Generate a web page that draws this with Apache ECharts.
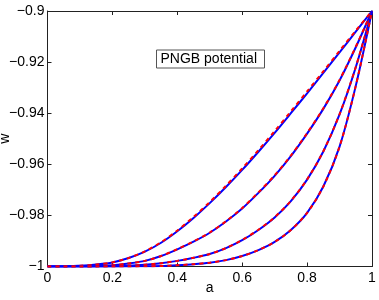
<!DOCTYPE html>
<html>
<head>
<meta charset="utf-8">
<script src="https://cdn.jsdelivr.net/npm/echarts@6/dist/echarts.min.js"></script>
<style>html,body{margin:0;padding:0;background:#fff}#c{width:379px;height:300px}</style>
</head>
<body>
<div id="c"></div>
<script>
// x values (a)
var aVals = [0, 0.05, 0.1, 0.15, 0.2, 0.25, 0.3, 0.35, 0.4, 0.45, 0.5, 0.55, 0.6, 0.65, 0.7, 0.75, 0.8, 0.85, 0.9, 0.95, 1];
// curve 1 (top)
var w1Blue = [-1.0000, -1.0000, -0.9997, -0.9992, -0.9984, -0.9967, -0.9942, -0.9907, -0.9862, -0.9810, -0.9752, -0.9689, -0.9622, -0.9551, -0.9477, -0.9400, -0.9322, -0.9242, -0.9162, -0.9081, -0.9000];
var w1Red  = [-1.0000, -1.0000, -0.9997, -0.9992, -0.9984, -0.9967, -0.9941, -0.9905, -0.9859, -0.9806, -0.9748, -0.9684, -0.9616, -0.9545, -0.9470, -0.9393, -0.9315, -0.9236, -0.9156, -0.9077, -0.9000];
// curve 2
var w2Blue = [-1.0000, -1.0000, -1.0000, -0.9999, -0.9995, -0.9988, -0.9978, -0.9959, -0.9933, -0.9903, -0.9868, -0.9824, -0.9773, -0.9712, -0.9645, -0.9568, -0.9480, -0.9383, -0.9272, -0.9142, -0.9000];
var w2Red  = [-1.0000, -1.0000, -1.0000, -0.9999, -0.9995, -0.9988, -0.9978, -0.9959, -0.9932, -0.9902, -0.9867, -0.9823, -0.9771, -0.9710, -0.9643, -0.9566, -0.9478, -0.9381, -0.9270, -0.9140, -0.9000];
// curve 3
var w3Blue = [-1.0000, -1.0000, -1.0000, -1.0000, -0.9999, -0.9997, -0.9993, -0.9987, -0.9978, -0.9966, -0.9951, -0.9928, -0.9897, -0.9857, -0.9808, -0.9744, -0.9660, -0.9550, -0.9405, -0.9220, -0.9000];
var w3Red  = [-1.0000, -1.0000, -1.0000, -1.0000, -0.9999, -0.9997, -0.9993, -0.9987, -0.9978, -0.9966, -0.9951, -0.9928, -0.9896, -0.9856, -0.9807, -0.9743, -0.9659, -0.9549, -0.9404, -0.9219, -0.9000];
// curve 4 (bottom)
var w4Blue = [-1.0000, -1.0000, -1.0000, -1.0000, -1.0000, -1.0000, -0.9999, -0.9998, -0.9995, -0.9991, -0.9985, -0.9975, -0.9959, -0.9936, -0.9904, -0.9857, -0.9790, -0.9687, -0.9531, -0.9293, -0.9000];
var w4Red  = [-1.0000, -1.0000, -1.0000, -1.0000, -1.0000, -1.0000, -0.9999, -0.9998, -0.9995, -0.9991, -0.9985, -0.9975, -0.9959, -0.9936, -0.9904, -0.9857, -0.9790, -0.9687, -0.9531, -0.9293, -0.9000];

var xTickLabels = ['0', '0.2', '0.4', '0.6', '0.8', '1'];
var yTickLabels = ['\u22121', '\u22120.98', '\u22120.96', '\u22120.94', '\u22120.92', '\u22120.9'];
var boxText = 'PNGB potential';
var xName = 'a';
var yName = 'w';

function pairs(ys) { return aVals.map(function (a, i) { return [a, ys[i]]; }); }

var FONT = '"Liberation Sans", Arial, Helvetica, sans-serif';
var AX = '#222';

function mkSeries(ys, color, dashed) {
  return {
    type: 'line', data: pairs(ys), xAxisIndex: 0, yAxisIndex: 0,
    showSymbol: false, symbol: 'none', smooth: 0.3,
    lineStyle: { color: color, width: 2, type: dashed ? [4, 4] : 'solid' },
    silent: true, animation: false
  };
}

var chart = echarts.init(document.getElementById('c'), null, { renderer: 'canvas' });
chart.setOption({
  animation: false,
  grid: { left: 47.5, right: 7, top: 11, bottom: 33.5, containLabel: false, outerBoundsMode: 'none' },
  xAxis: [{
    type: 'value', min: 0, max: 1, interval: 0.2, position: 'bottom',
    name: xName, nameLocation: 'middle', nameGap: 15, nameMoveOverlap: false,
    nameTextStyle: { fontFamily: FONT, fontSize: 14, color: '#000' },
    axisLine: { show: true, onZero: false, lineStyle: { color: AX, width: 1 } },
    axisTick: { show: true, inside: true, length: 4, lineStyle: { color: AX } },
    splitLine: { show: false },
    axisLabel: {
      fontFamily: FONT, fontSize: 14, color: '#000', margin: 5,
      formatter: function (v) { return xTickLabels[Math.round(v / 0.2)]; }
    }
  }, {
    type: 'value', min: 0, max: 1, interval: 0.2, position: 'top',
    axisLine: { show: true, onZero: false, lineStyle: { color: AX, width: 1 } },
    axisTick: { show: true, inside: true, length: 4, lineStyle: { color: AX } },
    axisLabel: { show: false }, splitLine: { show: false }
  }],
  yAxis: [{
    type: 'value', min: -1, max: -0.9, interval: 0.02, position: 'left',
    name: yName, nameLocation: 'middle', nameGap: 35, nameRotate: 90, nameMoveOverlap: false,
    nameTextStyle: { fontFamily: FONT, fontSize: 14, color: '#000' },
    axisLine: { show: true, onZero: false, lineStyle: { color: AX, width: 1 } },
    axisTick: { show: true, inside: true, length: 4, lineStyle: { color: AX } },
    splitLine: { show: false },
    axisLabel: {
      fontFamily: FONT, fontSize: 14, color: '#000', margin: 3,
      formatter: function (v) { return yTickLabels[Math.round((v + 1) / 0.02)]; }
    }
  }, {
    type: 'value', min: -1, max: -0.9, interval: 0.02, position: 'right',
    axisLine: { show: true, onZero: false, lineStyle: { color: AX, width: 1 } },
    axisTick: { show: true, inside: true, length: 4, lineStyle: { color: AX } },
    axisLabel: { show: false }, splitLine: { show: false }
  }],
  graphic: [{
    type: 'group', left: 156, top: 49.5,
    children: [{
      type: 'rect', shape: { x: 0, y: 0, width: 108, height: 18 },
      style: { fill: '#fff', stroke: '#555', lineWidth: 1 }
    }, {
      type: 'text', x: 4, y: 9,
      style: { text: boxText, fill: '#000', font: '14px ' + FONT, verticalAlign: 'middle', align: 'left' }
    }]
  }],
  series: [
    mkSeries(w1Blue, '#0000ff', false), mkSeries(w1Red, '#ff0000', true),
    mkSeries(w2Blue, '#0000ff', false), mkSeries(w2Red, '#ff0000', true),
    mkSeries(w3Blue, '#0000ff', false), mkSeries(w3Red, '#ff0000', true),
    mkSeries(w4Blue, '#0000ff', false), mkSeries(w4Red, '#ff0000', true)
  ]
});
</script>
</body>
</html>
